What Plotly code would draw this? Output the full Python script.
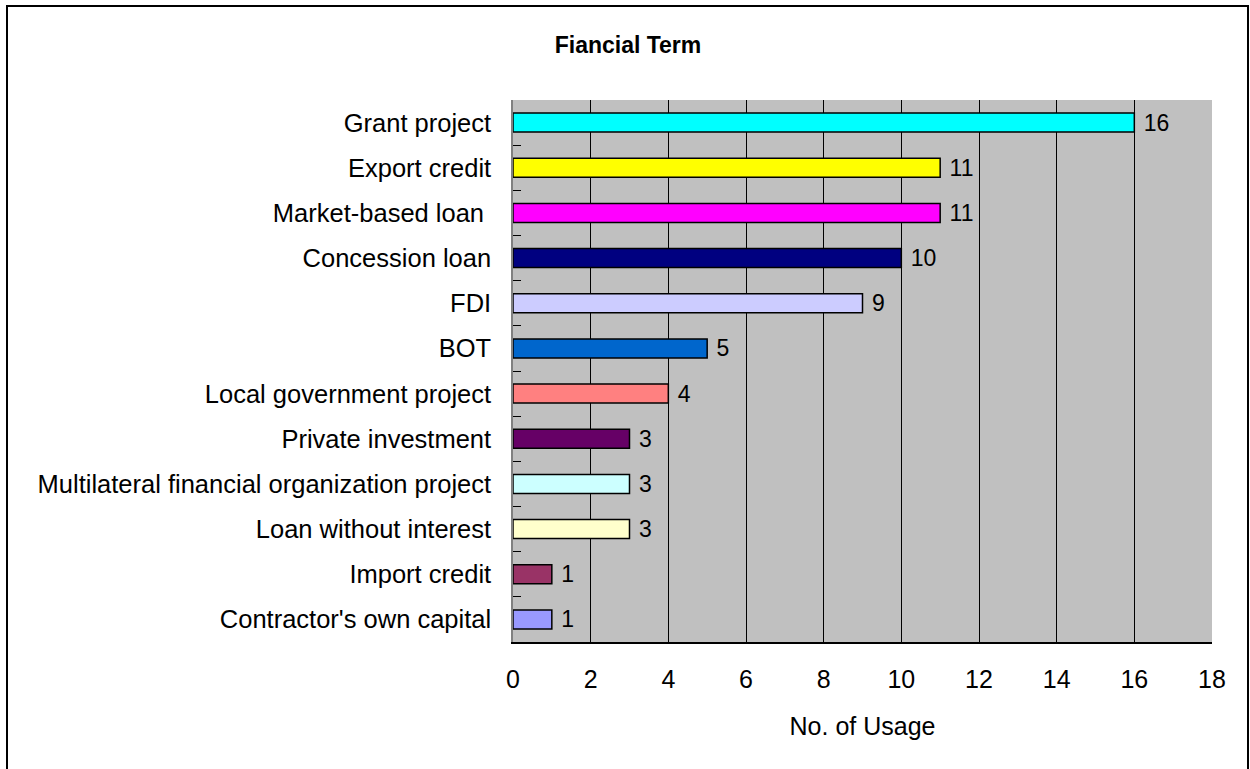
import plotly.graph_objects as go

categories = [
    "Grant project", "Export credit", "Market-based loan ", "Concession loan", "FDI", "BOT",
    "Local government project", "Private investment",
    "Multilateral financial organization project", "Loan without interest",
    "Import credit", "Contractor's own capital",
]
usage = [16, 11, 11, 10, 9, 5, 4, 3, 3, 3, 1, 1]
bar_colors = [
    "#00FFFF", "#FFFF00", "#FF00FF", "#000080", "#CCCCFF", "#0066CC",
    "#FF8080", "#660066", "#CCFFFF", "#FFFFCC", "#993366", "#9999FF",
]
x_ticks = list(range(0, 19, 2))

W, H = 1250, 769
L, R, T, B = 513, 38, 100, 127
pw, ph = W - L - R, H - T - B

def px_x(p):
    return (p - L) / pw

def px_y(p):
    return (H - B - p) / ph

FONT = "Arial"

fig = go.Figure()
fig.add_trace(go.Bar(
    y=categories[::-1],
    x=usage[::-1],
    orientation="h",
    marker=dict(color=bar_colors[::-1], line=dict(color="black", width=1.5)),
    text=[" " + str(v) for v in usage[::-1]],
    textposition="outside",
    constraintext="none",
    textfont=dict(family=FONT, size=23, color="black"),
    cliponaxis=False,
    hoverinfo="skip",
))

fig.update_layout(
    width=W, height=H,
    margin=dict(l=L, r=R, t=T, b=B),
    paper_bgcolor="white",
    plot_bgcolor="#C0C0C0",
    bargap=0.58,
    showlegend=False,
    title=dict(text="<b>Fiancial Term</b>", x=628 / W, xanchor="center",
               y=1 - 45 / H, yanchor="middle",
               font=dict(family=FONT, size=23, color="black")),
    font=dict(family=FONT, color="black"),
    xaxis=dict(
        range=[0, 18], tickvals=x_ticks, ticktext=[str(t) for t in x_ticks],
        showgrid=True, gridcolor="black", gridwidth=1,
        showline=True, linecolor="black", linewidth=1.5,
        ticks="inside", ticklen=6, tickcolor="black",
        tickfont=dict(family=FONT, size=25), zeroline=False,
        ticklabelstandoff=14,
        title=dict(text="No. of Usage", font=dict(family=FONT, size=25), standoff=26),
    ),
    yaxis=dict(
        showline=True, linecolor="#808080", linewidth=1.5,
        ticks="inside", ticklen=8, tickcolor="black", tickson="boundaries",
        tickfont=dict(family=FONT, size=25.5), showgrid=False,
        ticklabelstandoff=15,
    ),
    shapes=[dict(
        type="rect", xref="paper", yref="paper",
        x0=px_x(7), x1=px_x(1248), y0=px_y(800), y1=px_y(6),
        line=dict(color="black", width=2), fillcolor="rgba(0,0,0,0)", layer="below",
    )],
)

fig.write_html("out.html")
